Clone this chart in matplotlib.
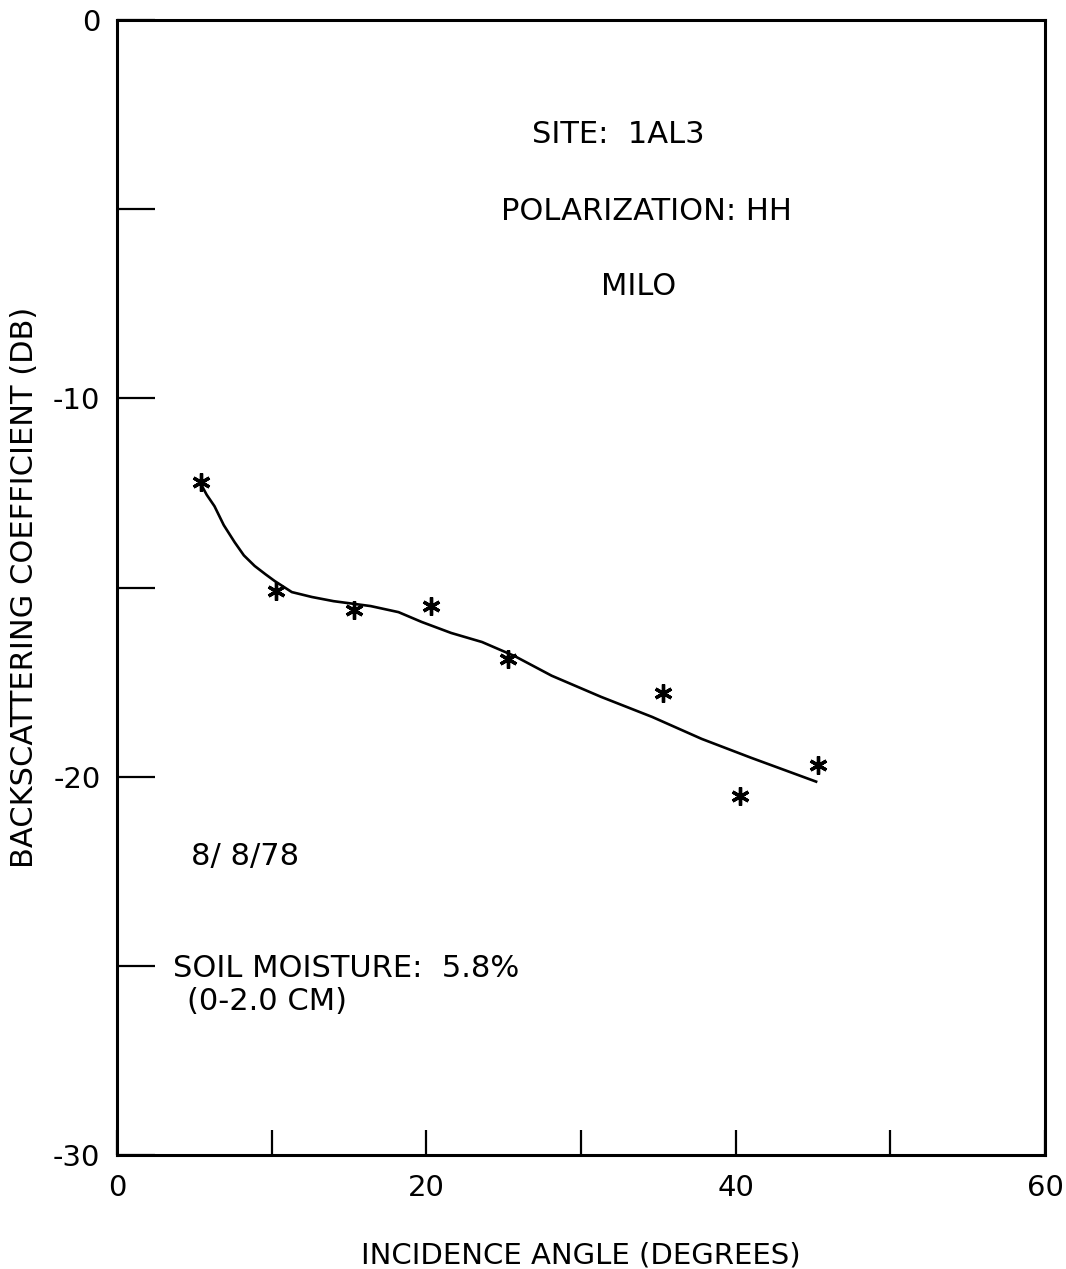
import matplotlib
matplotlib.use("Agg")
import matplotlib.pyplot as plt

# measured points (asterisks)
angle = [5.4, 10.3, 15.3, 20.3, 25.3, 35.3, 40.3, 45.3]
sigma = [-12.2, -15.1, -15.6, -15.5, -16.9, -17.8, -20.5, -19.7]

# fitted curve
curve_angle = [5.4, 5.8, 6.3, 6.9, 7.6, 8.2, 8.9, 9.6, 10.2, 11.3, 12.6, 14.0,
               16.4, 18.2, 19.7, 21.6, 23.6, 25.7, 28.1, 31.3, 34.6, 37.8,
               41.0, 45.2]
curve_sigma = [-12.25, -12.55, -12.85, -13.35, -13.8, -14.15, -14.43, -14.65,
               -14.83, -15.12, -15.25, -15.36, -15.49, -15.65, -15.91, -16.2,
               -16.44, -16.81, -17.33, -17.89, -18.42, -19.0, -19.5, -20.13]

xticks = [0, 10, 20, 30, 40, 50, 60]
xlabels = ["0", "", "20", "", "40", "", "60"]
yticks = [-30, -25, -20, -15, -10, -5, 0]
ylabels = ["-30", "", "-20", "", "-10", "", "0"]

plt.rcParams['font.family'] = ['DejaVu Sans']

fig = plt.figure(figsize=(10.66, 12.69), dpi=100)
ax = fig.add_axes([0.1098, 0.0898, 0.8705, 0.8944])

ax.plot(curve_angle, curve_sigma, color='black', lw=1.9)
ax.plot(angle, sigma, ls='none', marker=(6, 2, 0), ms=13, mew=2.4, color='black')

ax.set_xlim(0, 60)
ax.set_ylim(-30, 0)
ax.set_xticks(xticks)
ax.set_xticklabels(xlabels)
ax.set_yticks(yticks)
ax.set_yticklabels(ylabels)
ax.tick_params(direction='in', length=18, width=1.6, labelsize=21, pad=14)
ax.tick_params(axis='y', length=27, pad=12)
for s in ax.spines.values():
    s.set_linewidth(2.2)

ax.set_xlabel("INCIDENCE ANGLE (DEGREES)", fontsize=21, labelpad=28)
ax.set_ylabel("BACKSCATTERING COEFFICIENT (DB)", fontsize=22, labelpad=10)

ax.text(32.4, -3.03, "SITE:  1AL3", fontsize=22, ha='center', va='center')
ax.text(34.2, -5.07, "POLARIZATION: HH", fontsize=22, ha='center', va='center')
ax.text(33.7, -7.04, "MILO", fontsize=22, ha='center', va='center')
ax.text(4.8, -22.1, "8/ 8/78", fontsize=22, ha='left', va='center')
ax.text(3.6, -25.07, "SOIL MOISTURE:  5.8%", fontsize=22, ha='left', va='center')
ax.text(4.5, -25.95, "(0-2.0 CM)", fontsize=22, ha='left', va='center')

fig.savefig("out.png", dpi=100)
